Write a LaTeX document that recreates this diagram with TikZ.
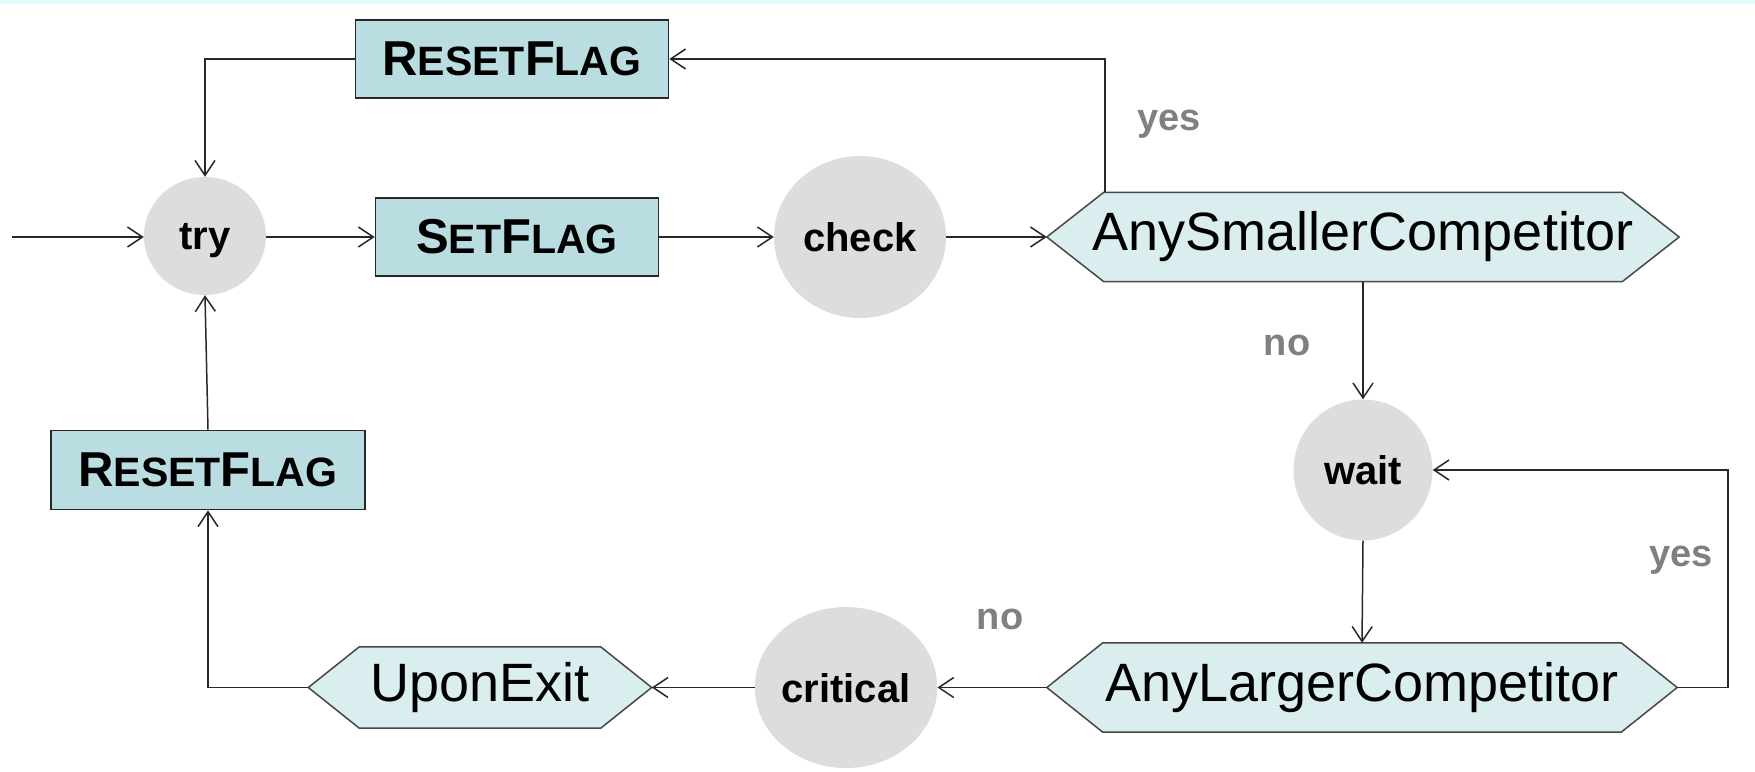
\documentclass[tikz,border=0pt]{standalone}
\usepackage{fontspec}
\setmainfont{Liberation Sans}
\usetikzlibrary{arrows.meta,backgrounds,shapes.geometric}
\definecolor{boxfill}{RGB}{185,221,225}
\definecolor{hexfill}{RGB}{218,237,239}
\definecolor{statefill}{RGB}{221,221,221}
\definecolor{labelgray}{RGB}{128,128,128}
\definecolor{bandcyan}{RGB}{226,252,252}
\definecolor{linecol}{RGB}{40,40,40}
% small-caps look: a large initial followed by smaller capitals
\newcommand\capsmall[2]{{\fontsize{49}{49}\selectfont #1}{\fontsize{41}{41}\selectfont #2}}
% hexagonal outline drawn around a rectangular condition node
\newcommand\hexoutline[2]{%
  \draw[hexshape] (#1.west) -- ([xshift=#2]#1.north west) -- ([xshift=-#2]#1.north east)
    -- (#1.east) -- ([xshift=-#2]#1.south east) -- ([xshift=#2]#1.south west) -- cycle;}
\begin{document}
\begin{tikzpicture}[x=1pt,y=-1pt,
  arr/.style={draw=linecol, line width=1.5pt, -{Straight Barb[length=15pt,width=20pt,line width=1.5pt]}},
  flagbox/.style={draw=linecol, line width=1.6pt, fill=boxfill, inner sep=0pt, minimum height=78pt, font=\bfseries},
  state/.style={ellipse, fill=statefill, inner sep=0pt, text depth=0pt, font=\fontsize{40}{40}\selectfont\bfseries},
  cond/.style={inner sep=0pt, minimum height=89pt, font=\fontsize{54}{54}\selectfont},
  lbl/.style={text=labelgray, font=\fontsize{38}{38}\selectfont\bfseries},
  hexshape/.style={draw=linecol!85, line width=1.5pt, fill=hexfill}]
\useasboundingbox (0,0) rectangle (1755,771);

% process and state nodes
\node[flagbox, minimum width=313pt] (rf1) at (512,59) {\capsmall{R}{ESET}\capsmall{F}{LAG}};
\node[state, minimum width=122pt, minimum height=118pt] (try) at (205,236) {try};
\node[flagbox, minimum width=283pt] (setf) at (517,237) {\capsmall{S}{ET}\capsmall{F}{LAG}};
\node[state, minimum width=172pt, minimum height=162pt] (check) at (860,237) {check};
\node[cond, minimum width=632pt] (asc) at (1363,237) {AnySmallerCompetitor};
\node[state, minimum width=139pt, minimum height=141pt] (wait) at (1363,470) {wait};
\node[cond, minimum width=630pt] (alc) at (1362,687.5) {AnyLargerCompetitor};
\node[state, minimum width=171pt, minimum height=161pt] (crit) at (846,687.5) {critical};
\node[cond, minimum width=343pt, minimum height=81pt] (upon) at (480,687.5) {UponExit};
\node[flagbox, minimum width=314pt, minimum height=79pt] (rf2) at (208,470) {\capsmall{R}{ESET}\capsmall{F}{LAG}};

\begin{pgfonlayer}{background}
  \fill[bandcyan] (0,0) rectangle (1755,4);
  \hexoutline{asc}{57pt}
  \hexoutline{alc}{56pt}
  \hexoutline{upon}{51pt}
\end{pgfonlayer}

% branch labels
\node[lbl] (yes1) at (1169,124) {yes};
\node[lbl] (no1) at (1287,345) {no};
\node[lbl] (yes2) at (1681,560) {yes};
\node[lbl] (no2) at (1000,619) {no};

% connectors
\coordinate (start) at (12,237);
\coordinate (loop) at (1728,687.5);
\draw[arr] (start) -- (try.west |- start);
\draw[arr] (try.east |- setf) -- (setf);
\draw[arr] (setf) -- (check);
\draw[arr] (check) -- (asc);
\draw[arr] ([xshift=-258pt]asc.north) |- (rf1.east);
\draw[arr] (rf1.west) -| (try.north);
\draw[arr] (asc.south) -- (wait.north);
\draw[arr] (wait.south) -- (alc.north);
\draw[arr] (alc.east) -- (loop) |- (wait.east);
\draw[arr] (alc.west) -- (crit.east);
\draw[arr] (crit.west) -- (upon.east);
\draw[arr] (upon.west) -| (rf2.south);
\draw[arr] (rf2.north) -- (try.south);
\end{tikzpicture}
\end{document}
